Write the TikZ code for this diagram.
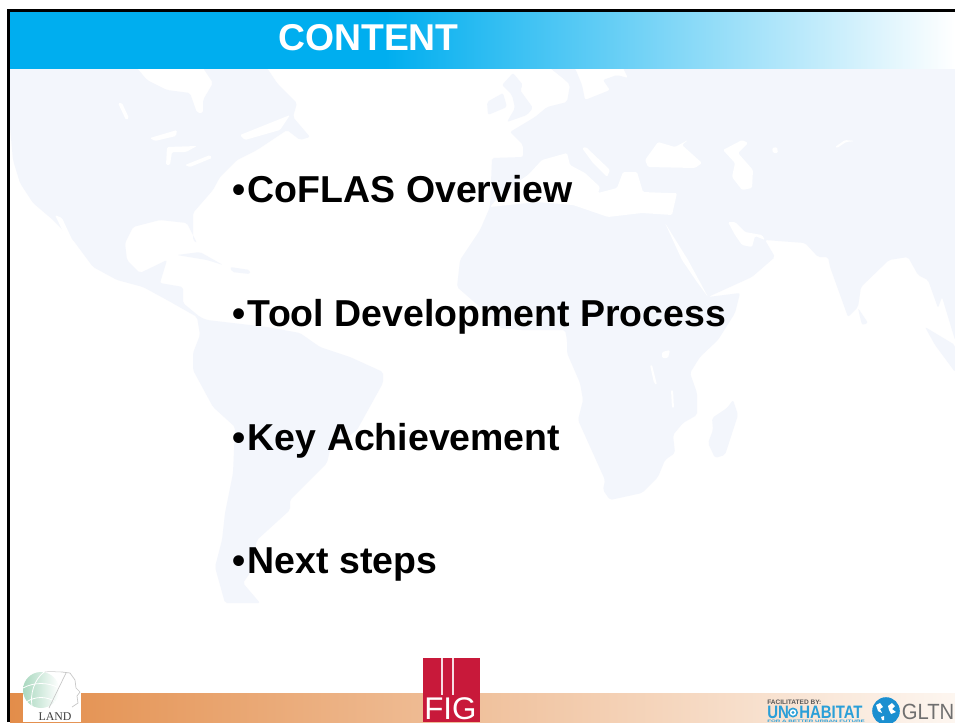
\documentclass[tikz,border=0pt]{standalone}
\usepackage{fontspec}
\setmainfont{Liberation Sans}
\newfontfamily\serifface{Liberation Serif}
\definecolor{landtint}{HTML}{F3F6FC}
\definecolor{bandblue}{HTML}{00AEEF}
\definecolor{bandorange}{HTML}{E38D4A}
\definecolor{bandpale}{HTML}{FDF6F0}
\definecolor{figred}{HTML}{C8193A}
\definecolor{unblue}{HTML}{2A9FD8}
\definecolor{globeblue}{HTML}{1B8FD0}
\definecolor{gltngray}{HTML}{6F6F6F}
\definecolor{globegreen}{HTML}{A9D8BF}
\pgfdeclarehorizontalshading{topband}{100bp}{color(0bp)=(bandblue);color(25bp)=(bandblue);color(44.85bp)=(bandblue);color(75bp)=(white);color(100bp)=(white)}
\tikzset{
  land/.style={fill=landtint,draw=none,rounded corners=1.5pt},
  sea/.style={fill=white,draw=none,rounded corners=1pt},
  bullettext/.style={anchor=base west,inner sep=0pt,font=\fontsize{28.1}{32}\selectfont\bfseries,text=black},
  logotext/.style={anchor=base west,inner sep=0pt},
}
\begin{document}
\begin{tikzpicture}[x=0.75pt,y=-0.75pt]
\useasboundingbox (0,0) rectangle (955,722);
\fill[white] (0,0) rectangle (955,722);
% North and South America
\fill[land] (10,68)--(137,68)--(147,80)--(167,90)--(190,93)--(197,113)--(203,113)--(203,100)--(213,83)--(203,68)--(267,68)--(277,83)--(297,103)--(293,117)--(310,137)--(300,140)--(287,130)--(257,150)--(237,160)--(220,177)--(213,190)--(193,213)--(193,240)--(197,243)--(187,223)--(160,220)--(133,227)--(125,243)--(127,260)--(140,273)--(167,260)--(160,283)--(183,287)--(183,303)--(200,317)--(207,320)--(267,327)--(300,333)--(320,347)--(350,357)--(383,372)--(383,383)--(357,430)--(330,450)--(327,463)--(290,500)--(290,510)--(257,540)--(250,573)--(243,583)--(260,603)--(225,603)--(215,567)--(222,540)--(225,513)--(233,473)--(235,427)--(213,407)--(193,370)--(193,353)--(200,335)--(197,317)--(167,300)--(143,287)--(117,280)--(93,267)--(73,240)--(53,220)--(33,203)--(20,183)--(13,160)--(10,127)--cycle;
\fill[land] (177,255)--(200,252)--(223,265)--(207,260)--cycle;
\fill[land] (230,267)--(250,270)--(250,274)--(232,272)--cycle;
% Eurasia and Africa
\fill[land] (550,68)--(575,68)--(582,85)--(585,100)--(610,90)--(603,80)--(617,75)--(628,78)--(623,68)--(955,68)--(955,340)--(942,297)--(938,308)--(928,280)--(918,275)--(908,257)--(889,260)--(861,287)--(858,307)--(848,317)--(830,267)--(828,257)--(818,257)--(805,243)--(765,240)--(775,257)--(752,277)--(708,297)--(740,293)--(735,313)--(718,340)--(700,357)--(690,373)--(697,393)--(697,415)--(683,423)--(673,435)--(675,453)--(665,460)--(658,477)--(642,493)--(610,500)--(603,490)--(605,480)--(578,420)--(583,400)--(580,383)--(567,353)--(567,340)--(565,330)--(520,330)--(500,328)--(480,307)--(457,287)--(460,260)--(480,230)--(490,207)--(492,158)--(523,157)--(523,145)--(510,132)--(535,117)--(547,107)--(567,102)--(570,85)--(565,80)--cycle;
% islands
\fill[land] (513,73)--(523,85)--(520,90)--(533,108)--(527,115)--(507,122)--(515,108)--(512,95)--(502,85)--cycle;
\fill[land] (487,102)--(503,93)--(507,107)--(488,115)--cycle;
\fill[land] (733,400)--(738,415)--(725,455)--(715,458)--(708,443)--(713,430)--(712,418)--(727,408)--cycle;
\fill[land] (858,308)--(868,323)--(862,325)--(860,317)--cycle;
\fill[land] (925,327)--(955,345)--(955,372)--(935,345)--cycle;
% inland and enclosed seas
\fill[sea] (528,175)--(542,160)--(567,153)--(570,165)--(585,173)--(600,187)--(598,193)--(617,188)--(623,172)--(637,172)--(643,192)--(667,193)--(677,193)--(672,215)--(642,213)--(608,217)--(573,205)--(537,202)--(490,207)--(503,192)--cycle;
\fill[sea] (582,148)--(586,147)--(610,170)--(607,177)--(593,163)--cycle;
\fill[sea] (645,160)--(658,142)--(675,147)--(688,140)--(682,145)--(702,163)--(695,168)--(648,167)--cycle;
\fill[sea] (723,150)--(742,140)--(748,143)--(738,153)--(753,170)--(752,188)--(742,190)--(732,177)--(735,163)--cycle;
\fill[sea] (665,223)--(688,260)--(708,297)--(697,282)--(682,260)--cycle;
\fill[sea] (728,222)--(735,222)--(745,232)--(762,235)--(765,240)--(755,236)--(752,247)--(742,245)--(735,235)--cycle;
\fill[sea] (55,215)--(62,218)--(77,250)--(72,250)--cycle;
\fill[sea] (118,103)--(122,103)--(129,118)--(126,120)--cycle;
\fill[sea] (150,138)--(177,130)--(176,136)--(155,141)--cycle;
\fill[sea] (167,147)--(197,146)--(186,152)--(172,152)--(170,165)--(166,165)--cycle;
\fill[sea] (185,165)--(210,155)--(212,158)--(190,167)--cycle;
\fill[sea] (240,135)--(290,115)--(280,130)--(245,140)--cycle;
\fill[sea] (662,352)--(670,350)--(668,358)--(662,358)--cycle;
\fill[sea] (650,365)--(652,365)--(657,385)--(654,383)--cycle;
\fill[sea] (671,390)--(673,390)--(674,408)--(672,408)--cycle;
\fill[sea] (772,148)--(777,147)--(778,153)--(773,153)--cycle;
\fill[sea] (835,147)--(845,140)--(855,141)--(846,142)--(837,148)--cycle;
% title band
\shade[shading=topband] (10,11) rectangle (955,68);
\draw[black,line width=1.9pt] (8.7,722)--(8.7,10.5)--(955,10.5);
\node[anchor=base west,inner sep=0pt,text=white,font=\fontsize{28}{32}\selectfont\bfseries] (title) at (278,50) {CONTENT};
% bullets
\node[bullettext] (item1) at (232.5,202.5) {•\kern1.5pt CoFLAS Overview};
\node[bullettext] (item2) at (232.5,326) {•\kern1.5pt Tool Development Process};
\node[bullettext] (item3) at (232.5,450) {•\kern1.5pt Key Achievement};
\node[bullettext] (item4) at (232.5,573.5) {•\kern1.5pt Next steps};
% footer band
\shade[left color=bandorange,right color=bandpale] (10,693) rectangle (955,722);
% LAND logo
\fill[white] (23,672) rectangle (81,722);
\shade[left color=globegreen,right color=white] (41,690) circle[radius=18];
\draw[white,line width=0.6pt] (23,688) .. controls (34,682) and (48,682) .. (59,688);
\draw[white,line width=0.6pt] (26,702) .. controls (36,696) and (46,696) .. (56,702);
\draw[white,line width=0.6pt] (32,706) .. controls (30,694) and (34,680) .. (44,672);
\draw[gray!40,line width=0.4pt] (45,672) .. controls (50,671) and (56,672) .. (62,672);
\draw[gray!45,line width=0.5pt] (62,672)--(70,673)--(75,680)--(76,688)--(80,692)--(77,696)--(78,703)--(72,707);
\draw[gray!45,line width=0.5pt] (66,673)--(49,708);
\node[anchor=base,inner sep=0pt,text=black!75,font=\serifface\fontsize{8.9}{10}\selectfont] (land) at (55,720.8) {LAND};
% FIG logo
\fill[figred] (423,658) rectangle (480,722);
\fill[white!85!figred] (441,658) rectangle (443,695);
\fill[white!85!figred] (452,658) rectangle (454,695);
\node[logotext,text=white,font=\fontsize{23.5}{25}\selectfont] (fig) at (424,719.6) {FIG};
% UN-Habitat and GLTN logos
\node[logotext,text=black!65,font=\fontsize{4.9}{5}\selectfont\bfseries] (facil) at (767,704) {FACILITATED BY:};
\node[logotext,text=unblue,font=\fontsize{13.5}{14}\selectfont\bfseries] (un) at (767,718) {\scalebox{0.83}[1]{UN}};
\fill[unblue] (793,712.5) circle[radius=5];
\fill[white] (793,712.5) circle[radius=3.2];
\fill[unblue] (793,712.5) circle[radius=1.7];
\node[logotext,text=unblue,font=\fontsize{13.5}{14}\selectfont\bfseries] (habitat) at (799,718) {\scalebox{0.83}[1]{HABITAT}};
\node[logotext,text=unblue,font=\fontsize{2.6}{3}\selectfont\bfseries] (future) at (767,722) {\scalebox{1.8}[1]{FOR A BETTER URBAN FUTURE}};
\fill[globeblue] (886,711) circle[radius=13.8];
\fill[white] (876,705)--(880,703)--(883,707)--(880,709)--(882,713)--(878,711)--cycle;
\fill[white] (888,706)--(892,703)--(895,706)--(892,709)--(896,712)--(891,714)--(889,710)--cycle;
\fill[white] (881,717)--(884,716)--(884,720)--(882,720)--cycle;
\node[logotext,text=gltngray,font=\fontsize{16.5}{18}\selectfont] (gltn) at (901.5,719) {\scalebox{0.92}[1]{GLTN}};
\end{tikzpicture}
\end{document}
